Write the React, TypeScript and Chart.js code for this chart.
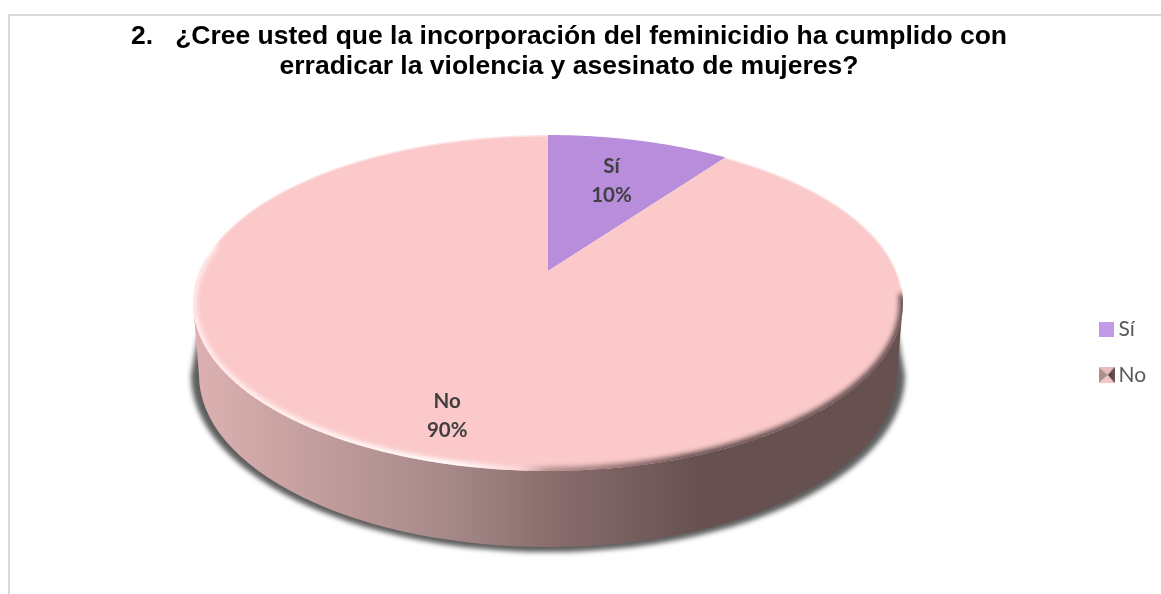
import React, { useEffect, useRef } from "react";
import { Chart, registerables, ArcElement } from "chart.js";

const categories = ["Sí", "No"];
const values = [10, 90];
const colors = ["#b88ddb", "#fbc9c9"];
const titleLines = [
  "2.   ¿Cree usted que la incorporación del feminicidio ha cumplido con",
  "erradicar la violencia y asesinato de mujeres?",
];
const percentLabels = ["10%", "90%"];
const labelRadii = [0.66, 0.8];

// perspective of the disc: a circle seen from above
const CX = 548, APEX_Y = 271, KX = 348.5, KY = 161.9, K = -0.1905;
const project = (u: number, v: number) => {
  const d = 1 + K * v;
  return { x: CX + (KX * u) / d, y: APEX_Y + (KY * v) / d };
};

class PerspectiveArc extends ArcElement {
  static id = "perspectiveArc";
  static defaults = ArcElement.defaults;
  static defaultRoutes = ArcElement.defaultRoutes;
  static descriptors = (ArcElement as any).descriptors;
  draw(ctx: CanvasRenderingContext2D) {
    const { startAngle, endAngle } = (this as any).getProps(["startAngle", "endAngle"]);
    ctx.save();
    ctx.beginPath();
    const c = project(0, 0);
    ctx.moveTo(c.x, c.y);
    const n = Math.ceil((endAngle - startAngle) / 0.01);
    for (let i = 0; i <= n; i++) {
      const a = startAngle + ((endAngle - startAngle) * i) / n;
      const p = project(Math.cos(a), Math.sin(a));
      ctx.lineTo(p.x, p.y);
    }
    ctx.closePath();
    ctx.fillStyle = (this as any).options.backgroundColor;
    ctx.fill();
    ctx.restore();
  }
}

Chart.register(...registerables, PerspectiveArc);
(Chart.defaults as any).datasets.pie.dataElementType = "perspectiveArc";

const discPath = (ctx: CanvasRenderingContext2D) => {
  ctx.beginPath();
  for (let i = 0; i <= 720; i++) {
    const a = (i / 720) * Math.PI * 2;
    const p = project(Math.cos(a), Math.sin(a));
    if (i === 0) ctx.moveTo(p.x, p.y);
    else ctx.lineTo(p.x, p.y);
  }
  ctx.closePath();
};

const rimStroke = (ctx: CanvasRenderingContext2D, from: number, to: number) => {
  ctx.beginPath();
  for (let i = from; i <= to; i++) {
    const a = (i * Math.PI) / 180;
    const p = project(Math.cos(a), Math.sin(a));
    if (i === from) ctx.moveTo(p.x, p.y);
    else ctx.lineTo(p.x, p.y);
  }
  ctx.stroke();
};

const body = {
  id: "body3d",
  beforeDatasetsDraw(chart: Chart) {
    const ctx = chart.ctx;
    ctx.save();
    // cast shadow
    ctx.filter = "blur(2.5px)";
    ctx.fillStyle = "#5e5e5e";
    ctx.beginPath();
    ctx.ellipse(CX, 375, 357, 177, 0, 0, Math.PI);
    ctx.lineTo(CX - 350, 335);
    ctx.lineTo(CX + 350, 335);
    ctx.closePath();
    ctx.fill();
    ctx.filter = "none";
    // side wall
    const g = ctx.createLinearGradient(199, 0, 897, 0);
    g.addColorStop(0, "#dcb0b0");
    g.addColorStop(0.36, "#a68888");
    g.addColorStop(0.5, "#8a6e6e");
    g.addColorStop(0.72, "#665150");
    g.addColorStop(1, "#665150");
    ctx.fillStyle = g;
    ctx.beginPath();
    ctx.moveTo(CX - 355, 303);
    ctx.lineTo(CX - 349, 375);
    ctx.ellipse(CX, 375, 349, 172, 0, Math.PI, 0, true);
    ctx.lineTo(CX + 355, 303);
    ctx.closePath();
    ctx.fill();
    ctx.restore();
  },
  afterDatasetsDraw(chart: Chart) {
    const ctx = chart.ctx;
    ctx.save();
    // bevel on the rim
    discPath(ctx);
    ctx.clip();
    const g = ctx.createLinearGradient(193, 0, 903, 0);
    g.addColorStop(0, "rgba(255,238,238,0.95)");
    g.addColorStop(0.38, "rgba(255,255,255,1)");
    g.addColorStop(0.46, "rgba(255,230,230,0.6)");
    g.addColorStop(0.5, "rgba(150,115,115,0.7)");
    g.addColorStop(0.7, "rgba(100,80,80,1)");
    g.addColorStop(1, "rgba(100,80,80,1)");
    ctx.strokeStyle = g;
    ctx.lineWidth = 8;
    ctx.filter = "blur(2.5px)";
    rimStroke(ctx, 8, 190);
    ctx.restore();

    // pale edge on the upper rim of the pink slice
    ctx.save();
    ctx.strokeStyle = "rgba(255,255,255,0.5)";
    ctx.lineWidth = 3;
    ctx.filter = "blur(0.6px)";
    rimStroke(ctx, 185, 270);
    rimStroke(ctx, -54, 6);
    ctx.restore();

    // data labels
    const meta = chart.getDatasetMeta(0);
    ctx.save();
    ctx.fillStyle = "#404040";
    ctx.font = "bold 20.5px Lato";
    ctx.textAlign = "center";
    ctx.textBaseline = "middle";
    meta.data.forEach((el: any, i: number) => {
      const { startAngle, endAngle } = el.getProps(["startAngle", "endAngle"]);
      const mid = (startAngle + endAngle) / 2;
      const r = labelRadii[i];
      const p = project(r * Math.cos(mid), r * Math.sin(mid));
      ctx.fillText(categories[i], p.x, p.y - 13.5);
      ctx.fillText(percentLabels[i], p.x, p.y + 15);
    });
    ctx.restore();
  },
  afterLayout(chart: any) {
    if (chart.titleBlock) {
      chart.titleBlock.right = 1138;
    }
    const lg = chart.legend;
    if (lg) {
      const w = lg.right - lg.left;
      const h = lg.bottom - lg.top;
      lg.left = 1080;
      lg.right = lg.left + w;
      lg.top = lg.top + 55;
      lg.bottom = lg.top + h;
    }
  },
};

const pyramid = () => {
  const s = 16;
  const c = document.createElement("canvas");
  c.width = s;
  c.height = s;
  const x = c.getContext("2d")!;
  const tri = (pts: number[][], col: string) => {
    x.fillStyle = col;
    x.beginPath();
    pts.forEach((p, i) => (i ? x.lineTo(p[0], p[1]) : x.moveTo(p[0], p[1])));
    x.closePath();
    x.fill();
  };
  const m: number[] = [9.5, 8];
  tri([[0, 0], [s, 0], m], "#e8bcbc");
  tri([[0, s], [s, s], m], "#f6c6c6");
  tri([[0, 0], [0, s], m], "#b08e8e");
  const g = x.createLinearGradient(9, 0, s, 0);
  g.addColorStop(0, "#3e3232");
  g.addColorStop(1, "#6c5554");
  tri([[s, 0], [s, s], m], g as any);
  return c;
};

const solid = () => {
  const c = document.createElement("canvas");
  c.width = 15;
  c.height = 15;
  const x = c.getContext("2d")!;
  x.fillStyle = "#c39ae6";
  x.fillRect(0, 0, 15, 15);
  return c;
};

export default function App() {
  const ref = useRef<HTMLCanvasElement>(null);
  useEffect(() => {
    document.body.style.margin = "0";
    const markers = [solid(), pyramid()];
    const chart = new Chart(ref.current!, {
      type: "pie",
      data: {
        labels: categories,
        datasets: [{ data: values, backgroundColor: colors, borderWidth: 0 }],
      },
      options: {
        responsive: false,
        animation: false,
        plugins: {
          tooltip: { enabled: false },
          title: {
            display: true,
            text: titleLines,
            color: "#000000",
            font: { family: '"Liberation Sans"', size: 26.5, weight: "bold", lineHeight: 1.13 },
            padding: { top: 22, bottom: 20 },
          },
          legend: {
            position: "right",
            labels: {
              color: "#595959",
              font: { family: "Lato", size: 21 },
              usePointStyle: true,
              boxHeight: 16,
              boxWidth: 16,
              pointStyleWidth: 3,
              padding: 25,
              generateLabels: () =>
                categories.map((t, i) => ({
                  text: t,
                  pointStyle: markers[i],
                  fontColor: "#595959",
                  hidden: false,
                  index: i,
                  lineWidth: 0,
                })),
            },
          },
        },
      } as any,
      plugins: [body],
    });
    return () => chart.destroy();
  }, []);
  return (
    <div style={{ position: "fixed", left: 0, top: 0, width: 1161, height: 594, overflow: "hidden", background: "#fff" }}>
      <div style={{ position: "absolute", left: 8, top: 14, right: -4, bottom: -4, borderTop: "2px solid #d9d9d9", borderLeft: "2px solid #d9d9d9" }} />
      <canvas ref={ref} width={1161} height={594} style={{ position: "absolute", left: 0, top: 0, display: "block" }} />
    </div>
  );
}
